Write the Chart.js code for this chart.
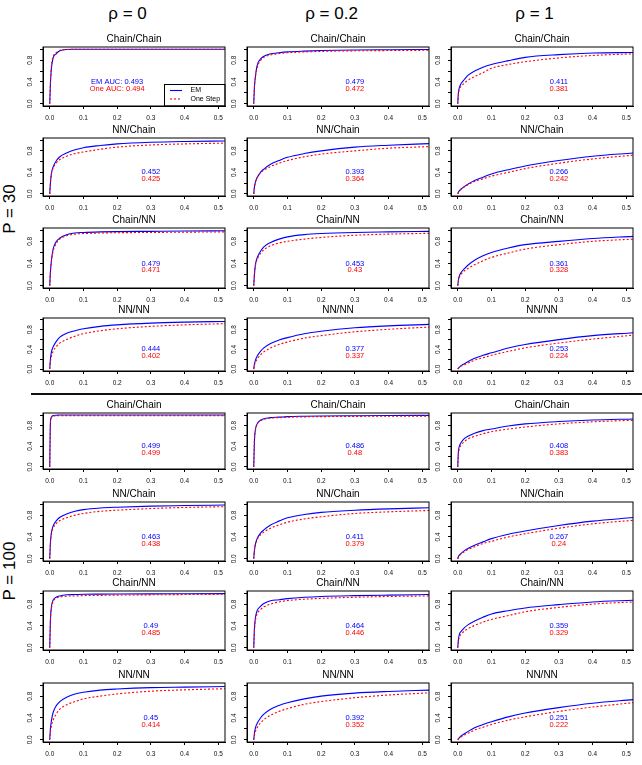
<!DOCTYPE html>
<html>
<head>
<meta charset="utf-8">
<script src="https://cdn.jsdelivr.net/npm/chart.js@4.4.0/dist/chart.umd.min.js"></script>
<style>
  html, body { margin: 0; padding: 0; background: #fff; }
  #page { position: relative; width: 642px; height: 765px; overflow: hidden; font-family: 'Liberation Sans', Arial, sans-serif; color: #000; }
  #page canvas { position: absolute; }
  .rho { position: absolute; font-size: 17px; transform: translate(-50%, -50%); white-space: nowrap; }
  .plabel { position: absolute; font-size: 17px; transform: translate(-50%, -50%) rotate(-90deg); white-space: nowrap; }
  #divider { position: absolute; left: 31px; top: 393px; width: 611px; height: 2px; background: #111; }
</style>
</head>
<body>
<div id="page"><div id="divider"></div></div>
<script>
// false positive rate grid shared by every curve
const fpr = [0, 0.002, 0.005, 0.01, 0.02, 0.03, 0.05, 0.075, 0.1, 0.15, 0.2, 0.3, 0.4, 0.52];
const rhoLabels = ['ρ = 0', 'ρ = 0.2', 'ρ = 1'];
const pLabels = ['P = 30', 'P = 100'];
const panelTitles = ['Chain/Chain', 'NN/Chain', 'Chain/NN', 'NN/NN'];
const seriesNames = ['EM', 'One Step'];
const xTicks = [0, 0.1, 0.2, 0.3, 0.4, 0.5];
const yTicks = [0, 0.2, 0.4, 0.6, 0.8, 1.0];
const yLabelled = [0, 0.4, 0.8];

// P = 30, one list per rho (0, 0.2, 1)
const em30ChainChain = [
  [0, 0.35, 0.65, 0.84, 0.92, 0.97, 0.995, 0.998, 1, 1, 1, 1, 1, 1],
  [0, 0.3, 0.5, 0.7, 0.82, 0.87, 0.915, 0.935, 0.95, 0.965, 0.975, 0.985, 0.99, 0.995],
  [0, 0.2, 0.3, 0.37, 0.45, 0.52, 0.6, 0.67, 0.72, 0.79, 0.85, 0.9, 0.93, 0.94]
];
const one30ChainChain = [
  [0, 0.4, 0.7, 0.86, 0.94, 0.98, 0.995, 0.998, 1, 1, 1, 1, 1, 1],
  [0, 0.3, 0.5, 0.66, 0.79, 0.85, 0.895, 0.92, 0.935, 0.95, 0.96, 0.97, 0.975, 0.98],
  [0, 0.18, 0.27, 0.32, 0.38, 0.43, 0.5, 0.57, 0.65, 0.72, 0.77, 0.84, 0.885, 0.915]
];
const em30NNChain = [
  [0, 0.2, 0.38, 0.5, 0.62, 0.69, 0.76, 0.82, 0.86, 0.9, 0.93, 0.96, 0.975, 0.985],
  [0, 0.12, 0.22, 0.3, 0.4, 0.46, 0.55, 0.62, 0.68, 0.75, 0.8, 0.87, 0.905, 0.935],
  [0, 0.03, 0.06, 0.09, 0.14, 0.18, 0.25, 0.31, 0.37, 0.45, 0.52, 0.62, 0.7, 0.76]
];
const one30NNChain = [
  [0, 0.2, 0.37, 0.48, 0.58, 0.64, 0.7, 0.75, 0.78, 0.83, 0.87, 0.91, 0.93, 0.945],
  [0, 0.12, 0.22, 0.3, 0.39, 0.44, 0.51, 0.57, 0.62, 0.69, 0.74, 0.8, 0.85, 0.88],
  [0, 0.03, 0.055, 0.085, 0.13, 0.17, 0.23, 0.28, 0.33, 0.4, 0.47, 0.57, 0.65, 0.72]
];
const em30ChainNN = [
  [0, 0.25, 0.45, 0.66, 0.8, 0.86, 0.92, 0.95, 0.96, 0.97, 0.975, 0.98, 0.985, 0.99],
  [0, 0.2, 0.38, 0.5, 0.62, 0.7, 0.78, 0.84, 0.88, 0.92, 0.94, 0.96, 0.97, 0.98],
  [0, 0.1, 0.18, 0.24, 0.31, 0.37, 0.46, 0.54, 0.6, 0.68, 0.74, 0.8, 0.85, 0.89]
];
const one30ChainNN = [
  [0, 0.25, 0.45, 0.62, 0.77, 0.84, 0.9, 0.93, 0.94, 0.95, 0.955, 0.96, 0.965, 0.97],
  [0, 0.2, 0.36, 0.47, 0.58, 0.65, 0.72, 0.77, 0.8, 0.84, 0.87, 0.91, 0.93, 0.945],
  [0, 0.1, 0.16, 0.21, 0.27, 0.31, 0.38, 0.45, 0.51, 0.59, 0.66, 0.74, 0.8, 0.84]
];
const em30NNNN = [
  [0, 0.2, 0.35, 0.45, 0.57, 0.65, 0.73, 0.78, 0.82, 0.87, 0.9, 0.935, 0.955, 0.97],
  [0, 0.1, 0.18, 0.26, 0.36, 0.43, 0.52, 0.59, 0.64, 0.72, 0.77, 0.84, 0.88, 0.91],
  [0, 0.02, 0.04, 0.07, 0.11, 0.15, 0.22, 0.28, 0.33, 0.43, 0.5, 0.6, 0.68, 0.74]
];
const one30NNNN = [
  [0, 0.15, 0.26, 0.36, 0.46, 0.53, 0.6, 0.67, 0.72, 0.78, 0.82, 0.87, 0.9, 0.925],
  [0, 0.08, 0.14, 0.2, 0.29, 0.35, 0.43, 0.5, 0.55, 0.63, 0.68, 0.76, 0.81, 0.855],
  [0, 0.02, 0.035, 0.06, 0.09, 0.12, 0.18, 0.23, 0.28, 0.36, 0.43, 0.53, 0.61, 0.69]
];

// P = 100
const em100ChainChain = [
  [0, 0.85, 0.96, 0.99, 0.997, 1, 1, 1, 1, 1, 1, 1, 1, 1],
  [0, 0.5, 0.72, 0.83, 0.9, 0.93, 0.95, 0.96, 0.97, 0.978, 0.983, 0.988, 0.992, 0.995],
  [0, 0.3, 0.4, 0.47, 0.55, 0.59, 0.65, 0.7, 0.73, 0.79, 0.83, 0.875, 0.905, 0.925]
];
const one100ChainChain = [
  [0, 0.85, 0.95, 0.98, 0.985, 0.988, 0.99, 0.99, 0.99, 0.99, 0.99, 0.99, 0.99, 0.99],
  [0, 0.5, 0.7, 0.82, 0.89, 0.92, 0.94, 0.95, 0.958, 0.965, 0.97, 0.975, 0.978, 0.98],
  [0, 0.25, 0.35, 0.42, 0.49, 0.54, 0.59, 0.64, 0.68, 0.73, 0.77, 0.83, 0.87, 0.9]
];
const em100NNChain = [
  [0, 0.3, 0.48, 0.6, 0.7, 0.76, 0.82, 0.87, 0.9, 0.93, 0.945, 0.965, 0.975, 0.985],
  [0, 0.15, 0.27, 0.37, 0.47, 0.53, 0.62, 0.69, 0.75, 0.81, 0.85, 0.89, 0.915, 0.935],
  [0, 0.04, 0.07, 0.1, 0.15, 0.19, 0.25, 0.31, 0.37, 0.45, 0.51, 0.61, 0.69, 0.755]
];
const one100NNChain = [
  [0, 0.28, 0.45, 0.56, 0.65, 0.7, 0.75, 0.8, 0.83, 0.87, 0.89, 0.92, 0.94, 0.955],
  [0, 0.15, 0.26, 0.35, 0.44, 0.49, 0.56, 0.62, 0.67, 0.73, 0.77, 0.83, 0.86, 0.885],
  [0, 0.035, 0.06, 0.09, 0.13, 0.17, 0.22, 0.28, 0.32, 0.4, 0.46, 0.56, 0.64, 0.705]
];
const em100ChainNN = [
  [0, 0.5, 0.75, 0.87, 0.93, 0.95, 0.97, 0.975, 0.98, 0.983, 0.985, 0.988, 0.99, 0.992],
  [0, 0.35, 0.55, 0.68, 0.76, 0.81, 0.86, 0.88, 0.9, 0.925, 0.94, 0.955, 0.965, 0.975],
  [0, 0.15, 0.25, 0.3, 0.37, 0.42, 0.49, 0.56, 0.62, 0.68, 0.73, 0.79, 0.84, 0.87]
];
const one100ChainNN = [
  [0, 0.5, 0.72, 0.85, 0.91, 0.93, 0.945, 0.95, 0.955, 0.96, 0.965, 0.97, 0.975, 0.98],
  [0, 0.3, 0.5, 0.62, 0.7, 0.75, 0.8, 0.84, 0.865, 0.89, 0.905, 0.925, 0.94, 0.95],
  [0, 0.12, 0.2, 0.25, 0.31, 0.35, 0.41, 0.47, 0.52, 0.59, 0.66, 0.74, 0.8, 0.84]
];
const em100NNNN = [
  [0, 0.2, 0.35, 0.5, 0.63, 0.7, 0.78, 0.84, 0.87, 0.91, 0.93, 0.955, 0.965, 0.975],
  [0, 0.12, 0.22, 0.3, 0.4, 0.47, 0.56, 0.63, 0.68, 0.75, 0.8, 0.855, 0.885, 0.91],
  [0, 0.02, 0.04, 0.07, 0.11, 0.15, 0.22, 0.28, 0.33, 0.42, 0.49, 0.59, 0.67, 0.735]
];
const one100NNNN = [
  [0, 0.15, 0.26, 0.36, 0.48, 0.56, 0.64, 0.7, 0.75, 0.8, 0.84, 0.89, 0.915, 0.935],
  [0, 0.08, 0.15, 0.22, 0.31, 0.37, 0.45, 0.52, 0.57, 0.65, 0.7, 0.77, 0.82, 0.86],
  [0, 0.015, 0.03, 0.055, 0.09, 0.12, 0.18, 0.23, 0.28, 0.36, 0.42, 0.52, 0.6, 0.68]
];

// partial AUC printed in each panel, rows in panelTitles order
const aucEm30 = [[0.493, 0.479, 0.411], [0.452, 0.393, 0.266], [0.479, 0.453, 0.361], [0.444, 0.377, 0.253]];
const aucOne30 = [[0.494, 0.472, 0.381], [0.425, 0.364, 0.242], [0.471, 0.43, 0.328], [0.402, 0.337, 0.224]];
const aucEm100 = [[0.499, 0.486, 0.408], [0.463, 0.411, 0.267], [0.49, 0.464, 0.359], [0.45, 0.392, 0.251]];
const aucOne100 = [[0.499, 0.48, 0.383], [0.438, 0.379, 0.24], [0.485, 0.446, 0.329], [0.414, 0.352, 0.222]];

const emRows = [em30ChainChain, em30NNChain, em30ChainNN, em30NNNN, em100ChainChain, em100NNChain, em100ChainNN, em100NNNN];
const oneRows = [one30ChainChain, one30NNChain, one30ChainNN, one30NNNN, one100ChainChain, one100NNChain, one100ChainNN, one100NNNN];
const aucEmRows = aucEm30.concat(aucEm100);
const aucOneRows = aucOne30.concat(aucOne100);

const FONT = "'Liberation Sans', Arial, Helvetica, sans-serif";
const BLUE = '#0000ff';
const RED = '#ff0000';

// plot box of each panel row / column, in page pixels
const rowBoxes = [[47, 106], [138, 196], [228, 288], [318, 371], [413, 469], [502, 561], [591, 650], [683, 742]];
const colBoxes = [[43, 225], [247, 429], [451, 633]];
const PAD_LEFT = 40, PAD_TOP = 20, PAD_BOTTOM = 20, PAD_RIGHT = 8;

// R style box round the plot region
const frameBox = {
  id: 'frameBox',
  afterDraw(chart) {
    const { ctx, chartArea: a } = chart;
    ctx.save();
    ctx.strokeStyle = '#000';
    ctx.lineWidth = 1;
    ctx.strokeRect(a.left, a.top, a.right - a.left, a.bottom - a.top);
    ctx.restore();
  }
};

// AUC values, first line at y = 0.4, second one line below
const aucText = {
  id: 'aucText',
  afterDatasetsDraw(chart, args, opts) {
    if (!opts.lines) return;
    const { ctx, scales: { x, y } } = chart;
    const px = x.getPixelForValue(opts.x);
    const py = y.getPixelForValue(opts.y);
    ctx.save();
    ctx.font = `7.5px ${FONT}`;
    ctx.textAlign = 'center';
    ctx.textBaseline = 'middle';
    opts.lines.forEach((l, i) => {
      ctx.fillStyle = l.color;
      ctx.fillText(l.text, px, py + i * 6.5);
    });
    ctx.restore();
  }
};

// legend in the bottom right corner of the first panel
const boxLegend = {
  id: 'boxLegend',
  afterDatasetsDraw(chart, args, opts) {
    if (!opts.show) return;
    const { ctx, chartArea: a, scales: { x, y } } = chart;
    const left = Math.round(x.getPixelForValue(opts.x)) + 0.5;
    const top = Math.round(y.getPixelForValue(opts.y)) + 0.5;
    ctx.save();
    ctx.fillStyle = '#fff';
    ctx.fillRect(left, top, a.right - left, a.bottom - top);
    ctx.strokeStyle = '#000';
    ctx.lineWidth = 1;
    ctx.strokeRect(left, top, a.right - left, a.bottom - top);
    ctx.font = `7px ${FONT}`;
    ctx.textBaseline = 'middle';
    ctx.textAlign = 'left';
    chart.data.datasets.forEach((ds, i) => {
      const yy = top + 6 + i * 8.5;
      ctx.strokeStyle = ds.borderColor;
      ctx.lineWidth = ds.borderWidth;
      ctx.setLineDash(ds.borderDash || []);
      ctx.beginPath();
      ctx.moveTo(left + 5.5, yy);
      ctx.lineTo(left + 17.5, yy);
      ctx.stroke();
      ctx.fillStyle = '#000';
      ctx.fillText(ds.label, left + 26, yy);
    });
    ctx.restore();
  }
};

const page = document.getElementById('page');

rhoLabels.forEach((t, i) => {
  const d = document.createElement('div');
  d.className = 'rho';
  d.textContent = t;
  d.style.left = [127.5, 331.5, 534.5][i] + 'px';
  d.style.top = '14px';
  page.appendChild(d);
});
pLabels.forEach((t, i) => {
  const d = document.createElement('div');
  d.className = 'plabel';
  d.textContent = t;
  d.style.left = '10px';
  d.style.top = [209, 571][i] + 'px';
  page.appendChild(d);
});

const toPoints = (ys) => fpr.map((x, i) => ({ x, y: ys[i] }));

rowBoxes.forEach(([top, bottom], r) => {
  colBoxes.forEach(([left, right], c) => {
    const w = right - left + PAD_LEFT + PAD_RIGHT;
    const h = bottom - top + PAD_TOP + PAD_BOTTOM;
    const canvas = document.createElement('canvas');
    canvas.width = w;
    canvas.height = h;
    canvas.style.left = (left - PAD_LEFT) + 'px';
    canvas.style.top = (top - PAD_TOP) + 'px';
    canvas.style.width = w + 'px';
    canvas.style.height = h + 'px';
    page.appendChild(canvas);

    const first = r === 0 && c === 0;
    const aucEm = aucEmRows[r][c];
    const aucOne = aucOneRows[r][c];

    new Chart(canvas, {
      type: 'line',
      data: {
        datasets: [{
          label: seriesNames[0],
          data: toPoints(emRows[r][c]),
          borderColor: BLUE,
          borderWidth: 1.1,
          order: 1
        }, {
          label: seriesNames[1],
          data: toPoints(oneRows[r][c]),
          borderColor: RED,
          borderWidth: 1.1,
          borderDash: [2, 2],
          order: 0
        }]
      },
      options: {
        responsive: false,
        devicePixelRatio: 1,
        animation: false,
        events: [],
        layout: { padding: { left: 0, right: PAD_RIGHT, top: 0, bottom: 0 } },
        elements: {
          point: { radius: 0 },
          line: { cubicInterpolationMode: 'monotone', fill: false }
        },
        scales: {
          x: {
            type: 'linear',
            min: -0.02,
            max: 0.52,
            afterBuildTicks: (s) => { s.ticks = xTicks.map((v) => ({ value: v })); },
            afterFit: (s) => { s.height = PAD_BOTTOM; },
            grid: { drawOnChartArea: false, drawTicks: true, tickLength: 3, color: '#000' },
            border: { display: true, color: '#000' },
            ticks: {
              autoSkip: false,
              maxRotation: 0,
              padding: 5,
              color: '#111',
              font: { family: FONT, size: 6.5 },
              callback: (v) => Number(v).toFixed(1)
            }
          },
          y: {
            type: 'linear',
            min: -0.04,
            max: 1.04,
            afterBuildTicks: (s) => { s.ticks = yTicks.map((v) => ({ value: v })); },
            afterFit: (s) => { s.width = PAD_LEFT; },
            grid: { drawOnChartArea: false, drawTicks: true, tickLength: 3, color: '#000' },
            border: { display: true, color: '#000' },
            ticks: {
              autoSkip: false,
              minRotation: 90,
              maxRotation: 90,
              crossAlign: 'center',
              padding: 5,
              color: '#111',
              font: { family: FONT, size: 6.5 },
              callback: (v) => (yLabelled.includes(v) ? Number(v).toFixed(1) : '')
            }
          }
        },
        plugins: {
          legend: { display: false },
          tooltip: { enabled: false },
          title: {
            display: true,
            text: panelTitles[r % 4],
            fullSize: false,
            color: '#000',
            font: { family: FONT, size: 10, weight: 'normal', lineHeight: '14px' },
            padding: { top: 5, bottom: 1 }
          },
          aucText: {
            x: first ? 0.2 : 0.3,
            y: 0.4,
            lines: [
              { text: (first ? 'EM AUC: ' : '') + aucEm, color: BLUE },
              { text: (first ? 'One AUC: ' : '') + aucOne, color: RED }
            ]
          },
          boxLegend: { show: first, x: 0.34, y: 0.36 }
        }
      },
      plugins: [frameBox, aucText, boxLegend]
    });
  });
});
</script>
</body>
</html>
